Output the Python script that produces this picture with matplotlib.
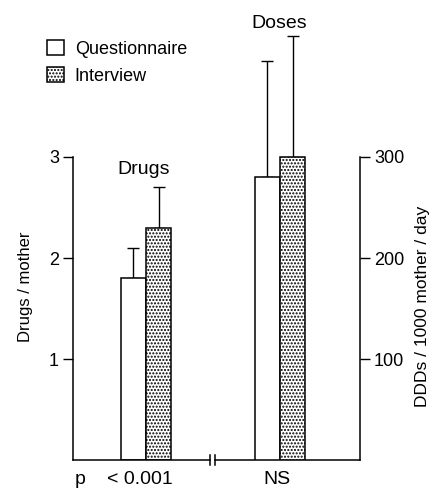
import matplotlib
matplotlib.use("Agg")
import matplotlib.pyplot as plt
import numpy as np
from matplotlib.patches import Patch
from matplotlib.transforms import blended_transform_factory

# --- data -------------------------------------------------------------------
series = ["Questionnaire", "Interview"]
drugs_mean = [1.8, 2.3]        # drugs / mother
drugs_err = [0.3, 0.4]
doses_mean = [280, 300]        # DDDs / 1000 mother / day
doses_err = [115, 120]
p_labels = ["< 0.001", "NS"]
group_labels = ["Drugs", "Doses"]

plt.rcParams["font.family"] = ["Liberation Sans", "DejaVu Sans"]
plt.rcParams["font.size"] = 11

fig = plt.figure(figsize=(4.33, 4.90), dpi=100)
ax = fig.add_axes([0.1686, 0.0612, 0.6628, 0.9276])
ax2 = ax.twinx()

width = 0.19
x = np.array([0.0, 1.0])
fills = ["white", "white"]
hatches = [None, "....."]

for i, name in enumerate(series):
    off = (i - 0.5) * width
    ax.bar(x[0] + off, drugs_mean[i], width, color=fills[i], edgecolor="black",
           hatch=hatches[i], lw=1.1, zorder=2)
    ax.errorbar(x[0] + off, drugs_mean[i], yerr=[[0], [drugs_err[i]]], color="black",
                lw=1, capsize=4, capthick=1, zorder=1)
    ax2.bar(x[1] + off, doses_mean[i], width, color=fills[i], edgecolor="black",
            hatch=hatches[i], lw=1.1, zorder=2)
    ax2.errorbar(x[1] + off, doses_mean[i], yerr=[[0], [doses_err[i]]], color="black",
                 lw=1, capsize=4, capthick=1, zorder=1)

ax.set_xlim(-0.545, 1.597)
ax.set_ylim(0, 4.5)
ax2.set_ylim(0, 450)

ax.set_yticks([1, 2, 3])
ax2.set_yticks([100, 200, 300])
ax.spines["left"].set_bounds(0, 3)
ax2.spines["right"].set_bounds(0, 300)
for a in (ax, ax2):
    a.spines["top"].set_visible(False)
    a.spines["bottom"].set_visible(False)
    a.tick_params(length=7, width=1, labelsize=13, pad=3)
    a.set_xticks([])
ax2.spines["left"].set_visible(False)
ax.spines["right"].set_visible(False)
ax.spines["left"].set_linewidth(1.1)
ax2.spines["right"].set_linewidth(1.1)

ax.set_ylabel("Drugs / mother", fontsize=12)
ax.yaxis.set_label_coords(-0.139, 0.381)
ax2.set_ylabel("DDDs / 1000 mother / day", fontsize=12.5)
ax2.yaxis.set_label_coords(1.193, 0.339)

# baseline with axis break
tr = blended_transform_factory(ax.transData, ax.transAxes)
ax.plot([-0.545, 0.478], [0, 0], color="black", lw=1.1, transform=tr, clip_on=False)
ax.plot([0.515, 1.597], [0, 0], color="black", lw=1.1, transform=tr, clip_on=False)
for bx in (0.478, 0.515):
    ax.plot([bx, bx], [-0.01, 0.01], color="black", lw=1.1, transform=tr, clip_on=False)

# labels
ax.text(x[0] - 0.015, 2.83, group_labels[0], ha="center", va="baseline", fontsize=14)
ax2.text(x[1] - 0.005, 428, group_labels[1], ha="center", va="baseline", fontsize=14)
ax.text(-0.49, -0.024, "p", ha="center", va="top", transform=tr, fontsize=14)
ax.text(x[0] - 0.045, -0.024, p_labels[0], ha="center", va="top", transform=tr, fontsize=14)
ax.text(x[1] - 0.02, -0.024, p_labels[1], ha="center", va="top", transform=tr, fontsize=14)

handles = [Patch(facecolor=fills[i], edgecolor="black", hatch=hatches[i], lw=1.1)
           for i in range(2)]
fig.legend(handles, series, loc="upper left", bbox_to_anchor=(47 / 433, 1 - 40 / 490),
           frameon=False, borderpad=0, borderaxespad=0, handlelength=0.94,
           handleheight=0.94, handletextpad=0.6, labelspacing=0.5, fontsize=13)

fig.savefig("out.png", dpi=100)
